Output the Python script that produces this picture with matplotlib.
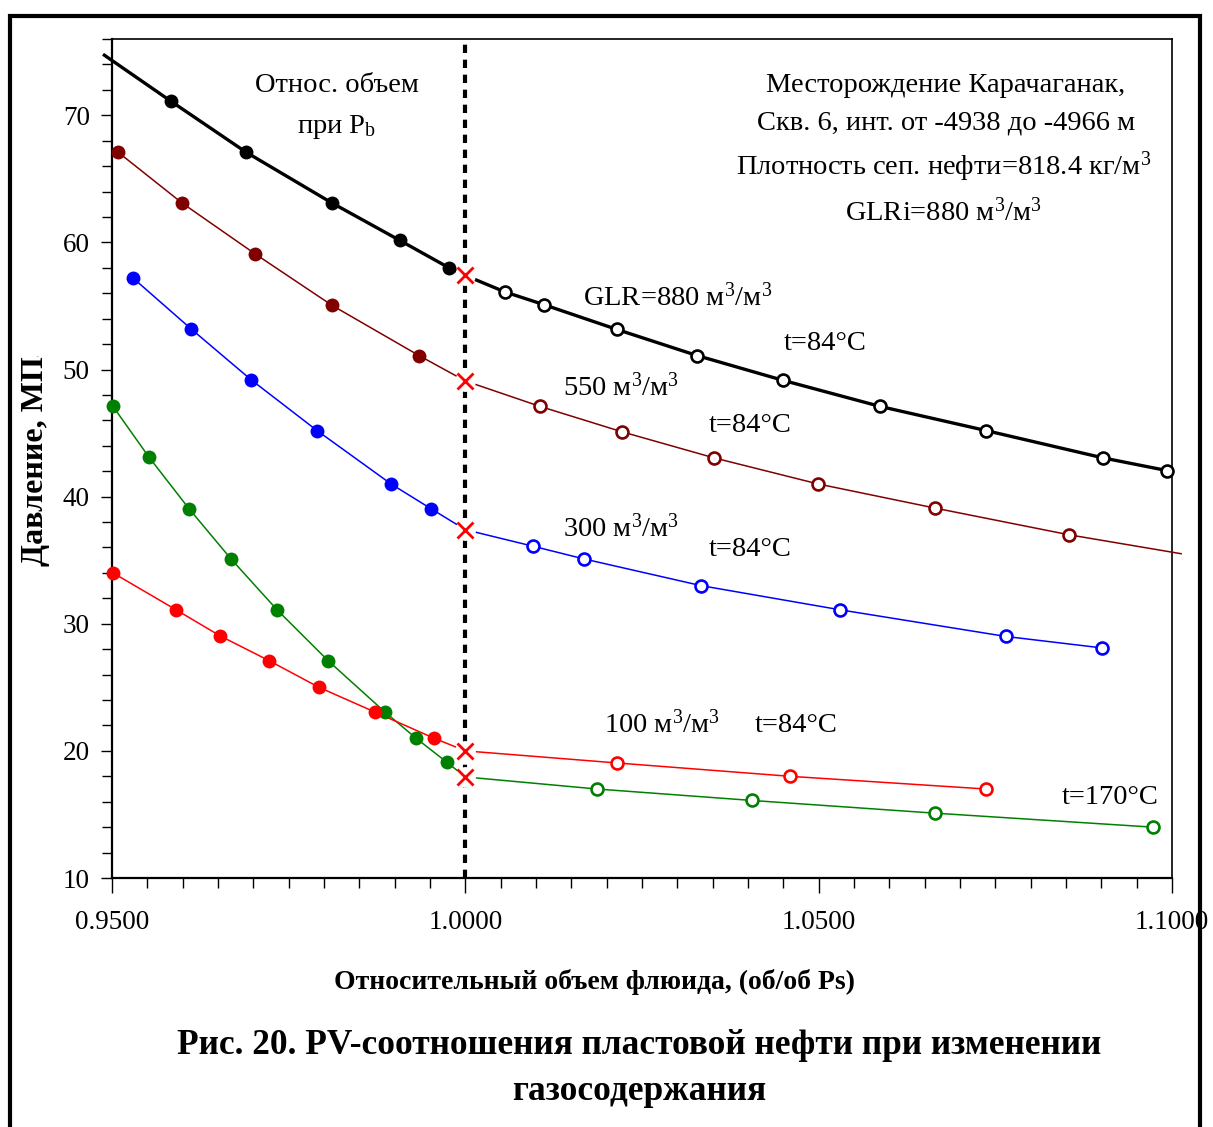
import matplotlib
matplotlib.use("Agg")
import matplotlib.pyplot as plt
from matplotlib.patches import Rectangle
from matplotlib.ticker import MultipleLocator, FormatStrFormatter
from matplotlib.transforms import Bbox, TransformedBbox

plt.rcParams['font.family'] = ['Liberation Serif', 'DejaVu Serif']
plt.rcParams['mathtext.fontset'] = 'custom'
plt.rcParams['mathtext.rm'] = 'Liberation Serif'
plt.rcParams['mathtext.it'] = 'Liberation Serif:italic'
plt.rcParams['mathtext.bf'] = 'Liberation Serif:bold'

# ---------------- data ----------------
# GLR = 880 m3/m3, t = 84 C
glr880_sat_x = [0.95835, 0.96896, 0.98113, 0.99075, 0.99769]
glr880_sat_p = [71.1, 67.1, 63.1, 60.15, 58.0]
glr880_und_x = [1.00562, 1.01113, 1.02146, 1.03278, 1.04495, 1.05867, 1.07367, 1.09023, 1.09929]
glr880_und_p = [56.1, 55.1, 53.15, 51.1, 49.15, 47.1, 45.2, 43.05, 42.05]
glr880_pb = 57.4
glr880_line_start = (0.94873, 74.8)

# GLR = 550 m3/m3, t = 84 C
glr550_sat_x = [0.95085, 0.95991, 0.97024, 0.98113, 0.99344]
glr550_sat_p = [67.1, 63.1, 59.1, 55.05, 51.1]
glr550_und_x = [1.01056, 1.02217, 1.03519, 1.0499, 1.06646, 1.08542]
glr550_und_p = [47.1, 45.1, 43.05, 41.0, 39.1, 37.0]
glr550_pb = 49.1
glr550_line_end = (1.1014, 35.5)

# GLR = 300 m3/m3, t = 84 C
glr300_sat_x = [0.95297, 0.96118, 0.96967, 0.97901, 0.98948, 0.99514]
glr300_sat_p = [57.2, 53.2, 49.2, 45.2, 41.0, 39.05]
glr300_und_x = [1.00957, 1.01679, 1.03335, 1.05301, 1.0765, 1.09009]
glr300_und_p = [36.1, 35.1, 33.0, 31.1, 29.0, 28.1]
glr300_pb = 37.4

# GLR = 100 m3/m3, t = 170 C
glr100h_sat_x = [0.95014, 0.95524, 0.9609, 0.96684, 0.97335, 0.98057, 0.98863, 0.99302, 0.9974]
glr100h_sat_p = [47.1, 43.1, 39.05, 35.1, 31.1, 27.1, 23.05, 21.0, 19.1]
glr100h_und_x = [1.01863, 1.04056, 1.06646, 1.0973]
glr100h_und_p = [17.0, 16.1, 15.1, 14.0]
glr100h_pb = 17.95

# GLR = 100 m3/m3, t = 84 C
glr100_sat_x = [0.95014, 0.95906, 0.96528, 0.97222, 0.97929, 0.98722, 0.99556]
glr100_sat_p = [34.0, 31.1, 29.05, 27.1, 25.0, 23.05, 21.0]
glr100_und_x = [1.02146, 1.04594, 1.07367]
glr100_und_p = [19.05, 18.0, 17.0]
glr100_pb = 20.0

bubble_x = 1.0

x_ticks = [0.95, 1.0, 1.05, 1.10]
y_ticks = [10, 20, 30, 40, 50, 60, 70]

# ---------------- figure ----------------
W, H = 1213, 1127
fig = plt.figure(figsize=(W / 100, H / 100), dpi=100)
fig.patch.set_facecolor('white')

def fx(px):
    return px / W

def fy(py):
    return 1 - py / H

ax = fig.add_axes([fx(112), fy(878), fx(1172) - fx(112), fy(39) - fy(878)])
ax.set_xlim(0.95, 1.10)
ax.set_ylim(10, 76)

series = [
    (glr880_sat_x, glr880_sat_p, glr880_und_x, glr880_und_p, glr880_pb, 'black', 2.4, glr880_line_start, None),
    (glr550_sat_x, glr550_sat_p, glr550_und_x, glr550_und_p, glr550_pb, '#800000', 1.1, None, glr550_line_end),
    (glr300_sat_x, glr300_sat_p, glr300_und_x, glr300_und_p, glr300_pb, '#0000ff', 1.1, None, None),
    (glr100h_sat_x, glr100h_sat_p, glr100h_und_x, glr100h_und_p, glr100h_pb, '#008000', 1.1, None, None),
    (glr100_sat_x, glr100_sat_p, glr100_und_x, glr100_und_p, glr100_pb, '#ff0000', 1.1, None, None),
]

# dotted bubble-point line
ax.axvline(bubble_x, color='black', lw=3, linestyle=(0, (2.0, 1.6)), zorder=2)

for sx, sp, ux, up, pb, col, lw, start, end in series:
    lx = list(sx) + [bubble_x] + list(ux)
    ly = list(sp) + [pb] + list(up)
    if start is not None:
        lx = [start[0]] + lx
        ly = [start[1]] + ly
    if end is not None:
        lx = lx + [end[0]]
        ly = ly + [end[1]]
    ax.plot(lx, ly, color=col, lw=lw, zorder=3, clip_on=False, solid_capstyle='butt')
    ax.plot(sx, sp, 'o', color=col, markersize=10, markeredgewidth=0, zorder=5, clip_on=False)
    ax.plot(ux, up, 'o', markerfacecolor='white', markeredgecolor=col, markersize=8.6,
            markeredgewidth=1.9, zorder=5, clip_on=False)
    ax.plot([bubble_x], [pb], 'o', color='white', markersize=15, markeredgewidth=0, zorder=4)
    ax.plot([bubble_x], [pb], 'x', color='#ff0000', markersize=12, markeredgewidth=2, zorder=6)

# axes styling
for s in ax.spines.values():
    s.set_linewidth(1.2)
    s.set_color('black')
ax.spines['left'].set_linewidth(1.6)
ax.spines['bottom'].set_linewidth(1.6)

ax.set_xticks(x_ticks)
ax.xaxis.set_major_formatter(FormatStrFormatter('%.4f'))
ax.xaxis.set_minor_locator(MultipleLocator(0.005))
ax.set_yticks(y_ticks)
ax.yaxis.set_minor_locator(MultipleLocator(2))
ax.tick_params(axis='both', which='both', direction='out', width=1.0, color='black')
ax.tick_params(axis='x', which='major', length=11, pad=12, labelsize=19.5)
ax.tick_params(axis='x', which='minor', length=7)
ax.tick_params(axis='y', which='major', length=8, pad=8, labelsize=19.5)
ax.tick_params(axis='y', which='minor', length=7)

# annotations
def txt(px, py, s, ha='center', size=20.5, **kw):
    return fig.text(fx(px), fy(py), s, ha=ha, va='center', fontsize=size, **kw)

txt(337, 86, "Относ. объем")
txt(337, 127, "при P$_{\\mathrm{b}}$")
txt(946, 86, "Месторождение Карачаганак,")
txt(946, 123, "Скв. 6, инт. от -4938 до -4966 м")
txt(944, 167, "Плотность сеп. нефти=818.4 кг/м$^{3}$")
txt(944, 212, "GLRi=880 м$^{3}$/м$^{3}$")
txt(583, 297, "GLR=880 м$^{3}$/м$^{3}$", ha='left')
txt(784, 343, "t=84°C", ha='left')
txt(563, 387, "550 м$^{3}$/м$^{3}$", ha='left')
txt(709, 425, "t=84°C", ha='left')
txt(563, 528, "300 м$^{3}$/м$^{3}$", ha='left')
txt(709, 549, "t=84°C", ha='left')
txt(604, 724, "100 м$^{3}$/м$^{3}$", ha='left')
txt(755, 725, "t=84°C", ha='left')
txt(1062, 797, "t=170°C", ha='left')

# axis labels and caption
txt(595, 982, "Относительный объем флюида, (об/об Ps)", size=20, fontweight='bold')
txt(639, 1046, "Рис. 20. PV-соотношения пластовой нефти при изменении", size=25.5, fontweight='bold')
txt(639, 1092, "газосодержания", size=25.5, fontweight='bold')

ylab = fig.text(fx(36), fy(566), "Давление, МПа", rotation=90, ha='center', va='bottom',
                fontsize=23, fontweight='bold')
ylab.set_clip_box(TransformedBbox(Bbox([[0, 0], [1, fy(356)]]), fig.transFigure))
ylab.set_clip_on(True)

# outer frame
fig.patches.append(Rectangle((fx(10), -0.05), fx(1200) - fx(10), fy(16) + 0.05,
                             transform=fig.transFigure, fill=False, edgecolor='black',
                             linewidth=3, clip_on=False))

fig.savefig("out.png", dpi=100, facecolor='white')
